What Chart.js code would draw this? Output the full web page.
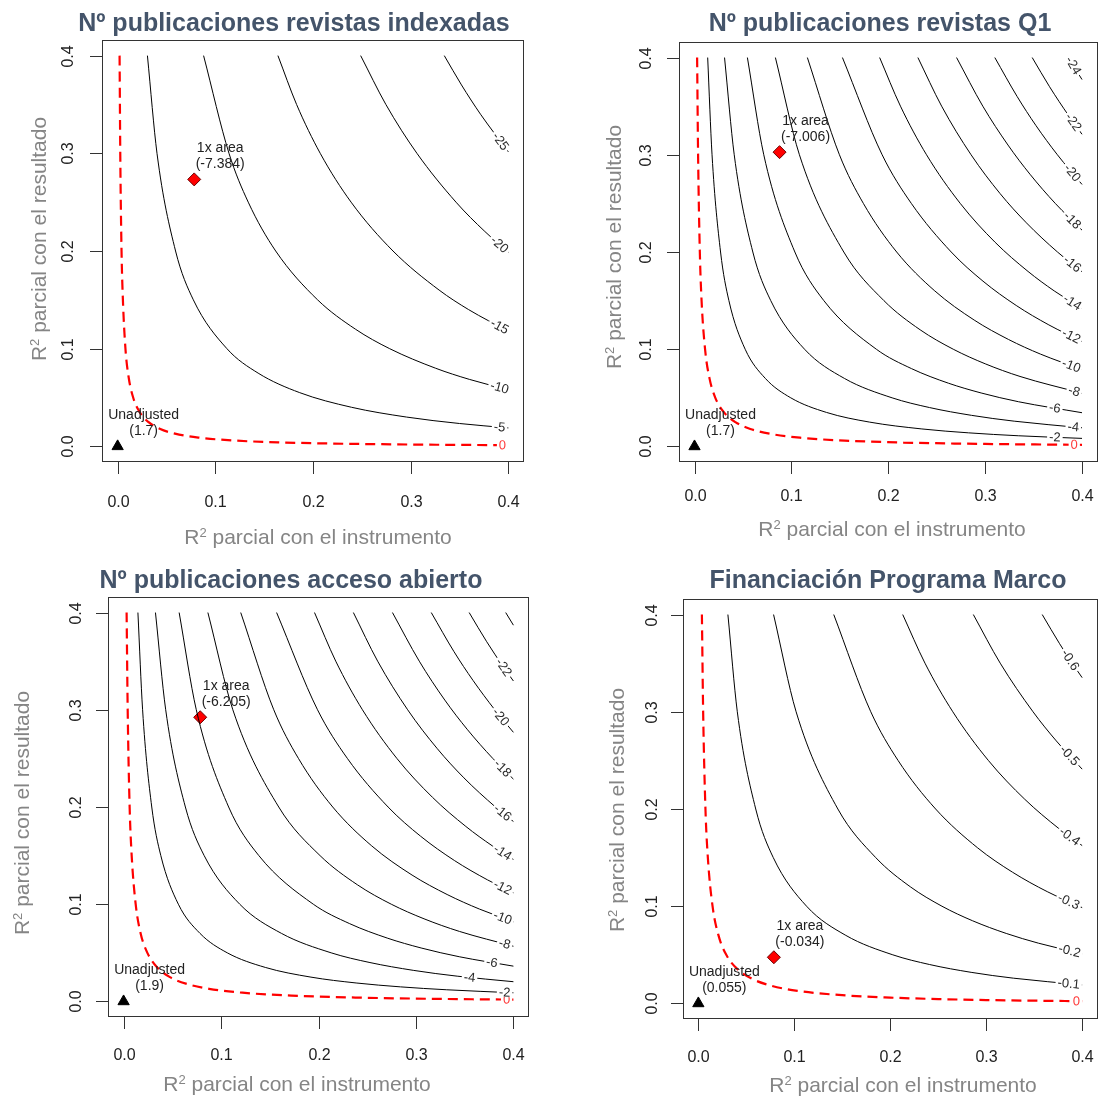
<!DOCTYPE html>
<html>
<head>
<meta charset="utf-8">
<script src="https://cdn.jsdelivr.net/npm/chart.js@4.4.1/dist/chart.umd.min.js"></script>
<style>
    body { margin: 0; background: #ffffff; width: 1105px; height: 1102px; position: relative; overflow: hidden; }
    canvas { position: absolute; }
</style>
</head>
<body>
<canvas id="graf1" width="552" height="551" style="left:0px;top:0px"></canvas>
<canvas id="graf2" width="553" height="551" style="left:552px;top:0px"></canvas>
<canvas id="graf3" width="552" height="551" style="left:0px;top:551px"></canvas>
<canvas id="graf4" width="553" height="551" style="left:552px;top:551px"></canvas>
<script>
// ---- datos ----
const ticksEje = [0, 0.1, 0.2, 0.3, 0.4];
const ticksTexto = ['0.0', '0.1', '0.2', '0.3', '0.4'];

// Panel 1: Nº publicaciones revistas indexadas
const titulo1 = 'Nº publicaciones revistas indexadas';
const niveles1 = ['0', '-5', '-10', '-15', '-20', '-25'];
const curvas1 = [
    [[0.0020,0.4],[0.0027,0.3],[0.0040,0.2],[0.0054,0.15],[0.0080,0.1],[0.0114,0.07],[0.0159,0.05],[0.0226,0.035],[0.0314,0.025],[0.0431,0.018],[0.0587,0.013],[0.0826,0.009],[0.1189,0.006],[0.1684,0.004],[0.2126,0.003],[0.3,0.0019],[0.4,0.0012]],
    [[0.0305,0.4],[0.0403,0.3],[0.0593,0.2],[0.0775,0.15],[0.1119,0.1],[0.1438,0.075],[0.1864,0.055],[0.2395,0.04],[0.2958,0.03],[0.35,0.0234],[0.4,0.0189]],
    [[0.088,0.4],[0.114,0.3],[0.1337,0.25],[0.1618,0.2],[0.2047,0.15],[0.2434,0.12],[0.2785,0.1],[0.3255,0.08],[0.36,0.0686],[0.4,0.0579]],
    [[0.1641,0.4],[0.1832,0.35],[0.2074,0.3],[0.239,0.25],[0.2819,0.2],[0.3291,0.16],[0.3593,0.14],[0.4,0.1178]],
    [[0.2488,0.4],[0.2746,0.35],[0.3064,0.3],[0.3464,0.25],[0.3759,0.22],[0.4,0.1988]],
    [[0.3344,0.4],[0.352,0.37],[0.3715,0.34],[0.4,0.3015]]
];
const ajustado1 = [0.0784, 0.2733];
const ajustadoTexto1 = '(-7.384)';
const sinAjusteTexto1 = '(1.7)';

// Panel 2: Nº publicaciones revistas Q1
const titulo2 = 'Nº publicaciones revistas Q1';
const niveles2 = ['0', '-2', '-4', '-6', '-8', '-10', '-12', '-14', '-16', '-18', '-20', '-22', '-24'];
const curvas2 = [
    [[0.0027,0.4],[0.0037,0.3],[0.0055,0.2],[0.0073,0.15],[0.0109,0.1],[0.0155,0.07],[0.0215,0.05],[0.0305,0.035],[0.0422,0.025],[0.0576,0.018],[0.078,0.013],[0.1089,0.009],[0.1549,0.006],[0.2157,0.004],[0.2683,0.003],[0.3333,0.0022],[0.4,0.0017]],
    [[0.0136,0.4],[0.0181,0.3],[0.0269,0.2],[0.0355,0.15],[0.0523,0.1],[0.0731,0.07],[0.0994,0.05],[0.1362,0.035],[0.1809,0.025],[0.2347,0.018],[0.2828,0.014],[0.3342,0.011],[0.4,0.0083]],
    [[0.031,0.4],[0.041,0.3],[0.0602,0.2],[0.0787,0.15],[0.1136,0.1],[0.1547,0.07],[0.204,0.05],[0.2426,0.04],[0.2859,0.032],[0.33,0.026],[0.4,0.0192]],
    [[0.0546,0.4],[0.0715,0.3],[0.1036,0.2],[0.1335,0.15],[0.1877,0.1],[0.2241,0.08],[0.2623,0.065],[0.2959,0.055],[0.3344,0.046],[0.4,0.0347]],
    [[0.0835,0.4],[0.1083,0.3],[0.1541,0.2],[0.1955,0.15],[0.2329,0.12],[0.2671,0.1],[0.3001,0.085],[0.336,0.072],[0.4,0.0547]],
    [[0.1165,0.4],[0.1496,0.3],[0.1743,0.25],[0.2087,0.2],[0.248,0.16],[0.2887,0.13],[0.3242,0.11],[0.3571,0.095],[0.4,0.0791]],
    [[0.1527,0.4],[0.1937,0.3],[0.2238,0.25],[0.265,0.2],[0.2978,0.17],[0.3321,0.145],[0.3658,0.125],[0.4,0.1081]],
    [[0.1911,0.4],[0.2126,0.35],[0.2395,0.3],[0.2743,0.25],[0.3103,0.21],[0.3443,0.18],[0.3713,0.16],[0.4,0.1418]],
    [[0.2306,0.4],[0.2551,0.35],[0.2855,0.3],[0.3155,0.26],[0.3426,0.23],[0.3747,0.2],[0.4,0.1798]],
    [[0.2705,0.4],[0.2976,0.35],[0.3236,0.31],[0.3463,0.28],[0.3724,0.25],[0.4,0.2225]],
    [[0.31,0.4],[0.333,0.36],[0.3525,0.33],[0.3746,0.3],[0.4,0.2695]],
    [[0.3486,0.4],[0.3665,0.37],[0.3864,0.34],[0.4,0.3211]],
    [[0.3861,0.4],[0.3921,0.39],[0.4,0.3774]]
];
const ajustado2 = [0.0878, 0.3027];
const ajustadoTexto2 = '(-7.006)';
const sinAjusteTexto2 = '(1.7)';

// Panel 3: Nº publicaciones acceso abierto
const titulo3 = 'Nº publicaciones acceso abierto';
const niveles3 = ['0', '-2', '-4', '-6', '-8', '-10', '-12', '-14', '-16', '-18', '-20', '-22', '-24'];
const curvas3 = [
    [[0.0031,0.4],[0.0042,0.3],[0.0062,0.2],[0.0083,0.15],[0.0124,0.1],[0.0175,0.07],[0.0244,0.05],[0.0345,0.035],[0.0476,0.025],[0.0649,0.018],[0.0877,0.013],[0.122,0.009],[0.1724,0.006],[0.2381,0.004],[0.2941,0.003],[0.3623,0.0022],[0.4,0.0019]],
    [[0.0147,0.4],[0.0195,0.3],[0.0289,0.2],[0.0382,0.15],[0.0562,0.1],[0.0784,0.07],[0.1064,0.05],[0.1454,0.035],[0.1923,0.025],[0.2386,0.019],[0.2841,0.015],[0.3316,0.012],[0.4,0.0089]],
    [[0.0327,0.4],[0.0432,0.3],[0.0634,0.2],[0.0827,0.15],[0.1192,0.1],[0.162,0.07],[0.213,0.05],[0.2528,0.04],[0.2972,0.032],[0.3423,0.026],[0.4,0.0203]],
    [[0.057,0.4],[0.0746,0.3],[0.1078,0.2],[0.1388,0.15],[0.1947,0.1],[0.232,0.08],[0.2711,0.065],[0.3053,0.055],[0.3444,0.046],[0.4,0.0363]],
    [[0.0865,0.4],[0.1121,0.3],[0.1592,0.2],[0.2016,0.15],[0.2399,0.12],[0.2747,0.1],[0.3083,0.085],[0.3447,0.072],[0.4,0.0568]],
    [[0.1202,0.4],[0.1541,0.3],[0.1794,0.25],[0.2146,0.2],[0.2546,0.16],[0.296,0.13],[0.332,0.11],[0.3652,0.095],[0.4,0.082]],
    [[0.157,0.4],[0.199,0.3],[0.2296,0.25],[0.2714,0.2],[0.3047,0.17],[0.3394,0.145],[0.3735,0.125],[0.4,0.1118]],
    [[0.1959,0.4],[0.2177,0.35],[0.2451,0.3],[0.2804,0.25],[0.3169,0.21],[0.3512,0.18],[0.3784,0.16],[0.4,0.1461]],
    [[0.2358,0.4],[0.2607,0.35],[0.2915,0.3],[0.3219,0.26],[0.3492,0.23],[0.3816,0.2],[0.4,0.1851]],
    [[0.2759,0.4],[0.3034,0.35],[0.3296,0.31],[0.3525,0.28],[0.3788,0.25],[0.4,0.2287]],
    [[0.3157,0.4],[0.3389,0.36],[0.3587,0.33],[0.3809,0.3],[0.4,0.2768]],
    [[0.3546,0.4],[0.3726,0.37],[0.3891,0.345],[0.4,0.3296]],
    [[0.3921,0.4],[0.4,0.387]]
];
const ajustado3 = [0.0786, 0.2923];
const ajustadoTexto3 = '(-6.205)';
const sinAjusteTexto3 = '(1.9)';

// Panel 4: Financiación Programa Marco
const titulo4 = 'Financiación Programa Marco';
const niveles4 = ['0', '-0.1', '-0.2', '-0.3', '-0.4', '-0.5', '-0.6'];
const curvas4 = [
    [[0.0037,0.4],[0.005,0.3],[0.0074,0.2],[0.0099,0.15],[0.0148,0.1],[0.021,0.07],[0.0291,0.05],[0.0411,0.035],[0.0566,0.025],[0.0769,0.018],[0.1034,0.013],[0.1429,0.009],[0.2,0.006],[0.25,0.0045],[0.3,0.0035],[0.4,0.0023]],
    [[0.0308,0.4],[0.0406,0.3],[0.0598,0.2],[0.0781,0.15],[0.1128,0.1],[0.1537,0.07],[0.2027,0.05],[0.2411,0.04],[0.2843,0.032],[0.3283,0.026],[0.4,0.0191]],
    [[0.0784,0.4],[0.1019,0.3],[0.1454,0.2],[0.1849,0.15],[0.2209,0.12],[0.2539,0.1],[0.2859,0.085],[0.3209,0.072],[0.3544,0.062],[0.4,0.0511]],
    [[0.1411,0.4],[0.1797,0.3],[0.2081,0.25],[0.2473,0.2],[0.2911,0.16],[0.3274,0.135],[0.3636,0.115],[0.4,0.0986]],
    [[0.213,0.4],[0.2362,0.35],[0.2652,0.3],[0.3022,0.25],[0.3402,0.21],[0.3756,0.18],[0.4,0.1624]],
    [[0.2866,0.4],[0.3146,0.35],[0.3488,0.3],[0.3731,0.27],[0.4,0.241]],
    [[0.3584,0.4],[0.3765,0.37],[0.3896,0.35],[0.4,0.3351]]
];
const ajustado4 = [0.0787, 0.0475];
const ajustadoTexto4 = '(-0.034)';
const sinAjusteTexto4 = '(0.055)';

// ---- estilo y posiciones ----
const fuente = '"Liberation Sans", Arial, Helvetica, sans-serif';
const colorTitulo = '#44546a';
const colorEje = '#858585';
const colorTexto = '#222222';

const paneles = [
    { id: 'graf1', ox: 0, oy: 0, w: 552, h: 551, area: { l: 102, t: 40, r: 524, b: 462 },
      titulo: titulo1, tit: [294, 31], xlab: [318, 544], ylab: [46, 239], xtick: 507, ytick: 73,
      niveles: niveles1, curvas: curvas1, ajustado: ajustado1, ajTxt: ajustadoTexto1, sinTxt: sinAjusteTexto1,
      etiq: [0.394, 0.391, 0.391, 0.391, 0.391, 0.392] },
    { id: 'graf2', ox: 552, oy: 0, w: 553, h: 551, area: { l: 679, t: 42, r: 1099, b: 462 },
      titulo: titulo2, tit: [880, 31], xlab: [892, 536], ylab: [621, 247], xtick: 501, ytick: 651,
      niveles: niveles2, curvas: curvas2, ajustado: ajustado2, ajTxt: ajustadoTexto2, sinTxt: sinAjusteTexto2,
      etiq: [0.392, 0.372, 0.391, 0.372, 0.392, 0.389, 0.389, 0.39, 0.39, 0.39, 0.39, 0.391, 0.391] },
    { id: 'graf3', ox: 0, oy: 551, w: 552, h: 551, area: { l: 108, t: 597, r: 529, b: 1017 },
      titulo: titulo3, tit: [291, 588], xlab: [297, 1091], ylab: [29, 813], xtick: 1060, ytick: 81,
      niveles: niveles3, curvas: curvas3, ajustado: ajustado3, ajTxt: ajustadoTexto3, sinTxt: sinAjusteTexto3,
      etiq: [0.393, 0.391, 0.355, 0.378, 0.391, 0.389, 0.389, 0.389, 0.389, 0.389, 0.387, 0.39, null] },
    { id: 'graf4', ox: 552, oy: 551, w: 553, h: 551, area: { l: 683, t: 599, r: 1104, b: 1019 },
      titulo: titulo4, tit: [888, 588], xlab: [903, 1092], ylab: [624, 810], xtick: 1062, ytick: 657,
      niveles: niveles4, curvas: curvas4, ajustado: ajustado4, ajTxt: ajustadoTexto4, sinTxt: sinAjusteTexto4,
      etiq: [0.394, 0.386, 0.387, 0.386, 0.387, 0.387, 0.3875] }
];

// punto (en pixeles) y angulo de una curva en un valor x
function puntoEnCurva(xs, ys, curva, xv) {
    for (let i = 0; i < curva.length - 1; i++) {
        const a = curva[i], b = curva[i + 1];
        if (xv >= a[0] && xv <= b[0]) {
            const t = (xv - a[0]) / (b[0] - a[0]);
            const yv = a[1] + t * (b[1] - a[1]);
            const ax = xs.getPixelForValue(a[0]), ay = ys.getPixelForValue(a[1]);
            const bx = xs.getPixelForValue(b[0]), by = ys.getPixelForValue(b[1]);
            return { px: xs.getPixelForValue(xv), py: ys.getPixelForValue(yv), ang: Math.atan2(by - ay, bx - ax) };
        }
    }
    return null;
}

// "R" + superindice 2 + resto del texto
function textoR2(ctx, resto, x, y, rotado) {
    ctx.save();
    ctx.translate(x, y);
    if (rotado) ctx.rotate(-Math.PI / 2);
    ctx.font = '21px ' + fuente;
    const wR = ctx.measureText('R').width;
    const wResto = ctx.measureText(resto).width;
    ctx.font = '13px ' + fuente;
    const w2 = ctx.measureText('2').width;
    let cx = -(wR + w2 + wResto) / 2;
    ctx.fillStyle = colorEje;
    ctx.textAlign = 'left';
    ctx.textBaseline = 'alphabetic';
    ctx.font = '21px ' + fuente;
    ctx.fillText('R', cx, 0);
    cx += wR;
    ctx.font = '13px ' + fuente;
    ctx.fillText('2', cx, -7);
    cx += w2;
    ctx.font = '21px ' + fuente;
    ctx.fillText(resto, cx, 0);
    ctx.restore();
}

function decoracion(p) {
    return {
        id: 'deco',
        afterDatasetsDraw(chart) {
            const ctx = chart.ctx, xs = chart.scales.x, ys = chart.scales.y;
            ctx.save();
            ctx.font = '13px ' + fuente;
            p.curvas.forEach(function (c, i) {
                const lx = p.etiq[i];
                if (lx == null) return;
                const pos = puntoEnCurva(xs, ys, c, lx);
                if (!pos) return;
                const txt = p.niveles[i];
                const w = ctx.measureText(txt).width;
                ctx.save();
                ctx.translate(pos.px, pos.py);
                ctx.rotate(pos.ang);
                ctx.fillStyle = '#ffffff';
                ctx.fillRect(-w / 2 - 2, -4.5, w + 4, 9);
                ctx.fillStyle = i === 0 ? '#ff3b3b' : '#2a2a2a';
                ctx.textAlign = 'center';
                ctx.textBaseline = 'middle';
                ctx.fillText(txt, 0, 0.5);
                ctx.restore();
            });
            ctx.restore();
        },
        afterDraw(chart) {
            const ctx = chart.ctx, xs = chart.scales.x, ys = chart.scales.y, a = chart.chartArea;
            const ox = p.ox, oy = p.oy;
            ctx.save();
            // caja
            ctx.strokeStyle = '#333333';
            ctx.lineWidth = 1;
            ctx.strokeRect(Math.round(a.left) + 0.5, Math.round(a.top) + 0.5, Math.round(a.right - a.left) - 1, Math.round(a.bottom - a.top) - 1);
            // marcas y textos de los ejes
            ctx.fillStyle = colorTexto;
            ctx.font = '16px ' + fuente;
            ticksEje.forEach(function (v, i) {
                const px = Math.round(xs.getPixelForValue(v)) + 0.5;
                ctx.beginPath();
                ctx.moveTo(px, a.bottom);
                ctx.lineTo(px, a.bottom + 12);
                ctx.stroke();
                ctx.textAlign = 'center';
                ctx.textBaseline = 'alphabetic';
                ctx.fillText(ticksTexto[i], px, p.xtick - oy);
                const py = Math.round(ys.getPixelForValue(v)) + 0.5;
                ctx.beginPath();
                ctx.moveTo(a.left, py);
                ctx.lineTo(a.left - 12, py);
                ctx.stroke();
                ctx.save();
                ctx.translate(p.ytick - ox, py);
                ctx.rotate(-Math.PI / 2);
                ctx.fillText(ticksTexto[i], 0, 0);
                ctx.restore();
            });
            textoR2(ctx, ' parcial con el instrumento', p.xlab[0] - ox, p.xlab[1] - oy, false);
            textoR2(ctx, ' parcial con el resultado', p.ylab[0] - ox, p.ylab[1] - oy, true);
            // titulo
            ctx.fillStyle = colorTitulo;
            ctx.font = 'bold 25px ' + fuente;
            ctx.textAlign = 'center';
            ctx.textBaseline = 'alphabetic';
            ctx.fillText(p.titulo, p.tit[0] - ox, p.tit[1] - oy);
            // etiquetas de los puntos
            ctx.fillStyle = colorTexto;
            ctx.font = '14px ' + fuente;
            const ux = xs.getPixelForValue(0), uy = ys.getPixelForValue(0);
            ctx.fillText('Unadjusted', ux + 26, uy - 27);
            ctx.fillText(p.sinTxt, ux + 26, uy - 11);
            const axp = xs.getPixelForValue(p.ajustado[0]), ayp = ys.getPixelForValue(p.ajustado[1]);
            ctx.fillText('1x area', axp + 26, ayp - 27);
            ctx.fillText(p.ajTxt, axp + 26, ayp - 11);
            ctx.restore();
        }
    };
}

function crearPanel(p) {
    const datasets = [];
    p.curvas.forEach(function (c, i) {
        datasets.push({
            type: 'line',
            data: c.map(function (q) { return { x: q[0], y: q[1] }; }),
            borderColor: i === 0 ? '#ff0000' : '#000000',
            borderWidth: i === 0 ? 2.2 : 1,
            borderDash: i === 0 ? [10, 6] : [],
            pointRadius: 0,
            cubicInterpolationMode: 'monotone',
            fill: false
        });
    });
    datasets.push({
        type: 'scatter',
        data: [{ x: 0, y: 0 }],
        pointStyle: 'triangle',
        pointRadius: 6.5,
        backgroundColor: '#000000',
        borderColor: '#000000',
        borderWidth: 1
    });
    datasets.push({
        type: 'scatter',
        data: [{ x: p.ajustado[0], y: p.ajustado[1] }],
        pointStyle: 'rectRot',
        pointRadius: 6.5,
        backgroundColor: '#ff0000',
        borderColor: '#6a0000',
        borderWidth: 1
    });
    new Chart(document.getElementById(p.id), {
        data: { datasets: datasets },
        options: {
            responsive: false,
            animation: false,
            events: [],
            layout: {
                padding: {
                    left: p.area.l - p.ox,
                    top: p.area.t - p.oy,
                    right: p.ox + p.w - p.area.r,
                    bottom: p.oy + p.h - p.area.b
                }
            },
            scales: {
                x: { type: 'linear', min: -0.016, max: 0.416, display: false },
                y: { type: 'linear', min: -0.016, max: 0.416, display: false }
            },
            plugins: { legend: { display: false }, tooltip: { enabled: false } }
        },
        plugins: [decoracion(p)]
    });
}

paneles.forEach(crearPanel);
</script>
</body>
</html>
